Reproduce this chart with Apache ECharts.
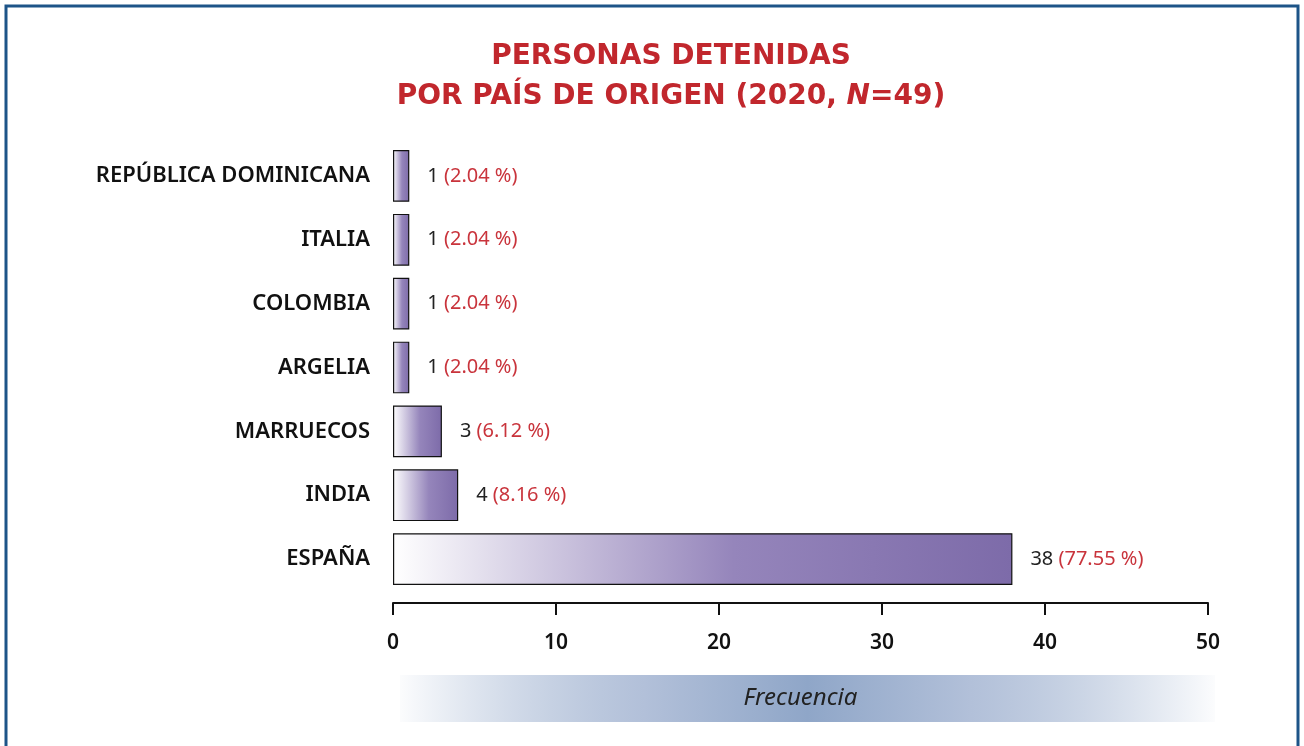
<!DOCTYPE html>
<html>
<head>
<meta charset="utf-8">
<script src="https://cdn.jsdelivr.net/npm/echarts@6/dist/echarts.min.js"></script>
<style>
  html, body { margin: 0; padding: 0; background: #fff; }
  #chart { width: 1304px; height: 746px; }
</style>
</head>
<body>
<div id="chart"></div>
<script>
// data (bottom to top)
const paises = ['ESPAÑA', 'INDIA', 'MARRUECOS', 'ARGELIA', 'COLOMBIA', 'ITALIA', 'REPÚBLICA DOMINICANA']
const detenidos = [38, 4, 3, 1, 1, 1, 1]
const porcentajes = ['77.55', '8.16', '6.12', '2.04', '2.04', '2.04', '2.04']

const myChart = echarts.init(document.getElementById('chart'))

const barFill = new echarts.graphic.LinearGradient(0, 0, 1, 0, [
  { offset: 0, color: '#ffffff' },
  { offset: 0.55, color: '#9585bb' },
  { offset: 1, color: '#7d6ba9' }
])

let option = {
  backgroundColor: '#fff',
  textStyle: { fontFamily: 'Noto Sans' },
  title: {
    text: 'PERSONAS DETENIDAS\nPOR PAÍS DE ORIGEN (2020, {n|N}=49)',
    left: 666,
    top: 32,
    textAlign: 'center',
    textStyle: {
      color: '#c1272d',
      fontSize: 28,
      fontWeight: 'bold',
      lineHeight: 40,
      fontFamily: 'DejaVu Sans',
      rich: {
        n: { color: '#c1272d', fontSize: 28, fontWeight: 'bold', fontStyle: 'italic', fontFamily: 'DejaVu Sans' }
      }
    }
  },
  graphic: [
    {
      type: 'rect',
      silent: true,
      shape: { x: 6, y: 6, width: 1292, height: 780 },
      style: { fill: 'none', stroke: '#1d5488', lineWidth: 3 }
    },
    {
      type: 'rect',
      silent: true,
      z: -1,
      shape: { x: 400, y: 675, width: 815, height: 47 },
      style: {
        fill: new echarts.graphic.LinearGradient(0, 0, 1, 0, [
          { offset: 0, color: 'rgba(143,166,200,0.03)' },
          { offset: 0.3, color: '#b2c0d9' },
          { offset: 0.5, color: '#8fa6c8' },
          { offset: 0.7, color: '#b2c0d9' },
          { offset: 1, color: 'rgba(143,166,200,0.03)' }
        ])
      }
    }
  ],
  grid: {
    left: 393,
    right: 96,
    top: 144,
    bottom: 155,
    containLabel: false
  },
  xAxis: {
    type: 'value',
    min: 0,
    max: 50,
    interval: 10,
    offset: 12,
    name: 'Frecuencia',
    nameLocation: 'middle',
    nameGap: 83,
    nameTextStyle: { fontSize: 24, fontStyle: 'italic', color: '#222', fontFamily: 'Noto Sans' },
    axisLine: { show: true, lineStyle: { color: '#111', width: 2 } },
    axisTick: { show: true, length: 12, lineStyle: { color: '#111', width: 2 } },
    axisLabel: { fontSize: 21, fontWeight: 600, color: '#111', margin: 30 },
    splitLine: { show: false }
  },
  yAxis: {
    type: 'category',
    data: paises,
    axisLine: { show: false },
    axisTick: { show: false },
    axisLabel: { fontSize: 22, fontWeight: 600, color: '#111', margin: 23 }
  },
  series: [
    {
      type: 'bar',
      data: detenidos,
      barCategoryGap: '19%',
      itemStyle: { color: barFill, borderColor: '#111', borderWidth: 1.2 },
      label: {
        show: true,
        position: 'right',
        distance: 18,
        formatter: function (p) {
          return p.value + ' {r|(' + porcentajes[p.dataIndex] + ' %)}'
        },
        fontSize: 20,
        color: '#222',
        rich: {
          r: { fontSize: 20, color: '#c9343c' }
        }
      }
    }
  ]
}

myChart.setOption(option)
</script>
</body>
</html>
